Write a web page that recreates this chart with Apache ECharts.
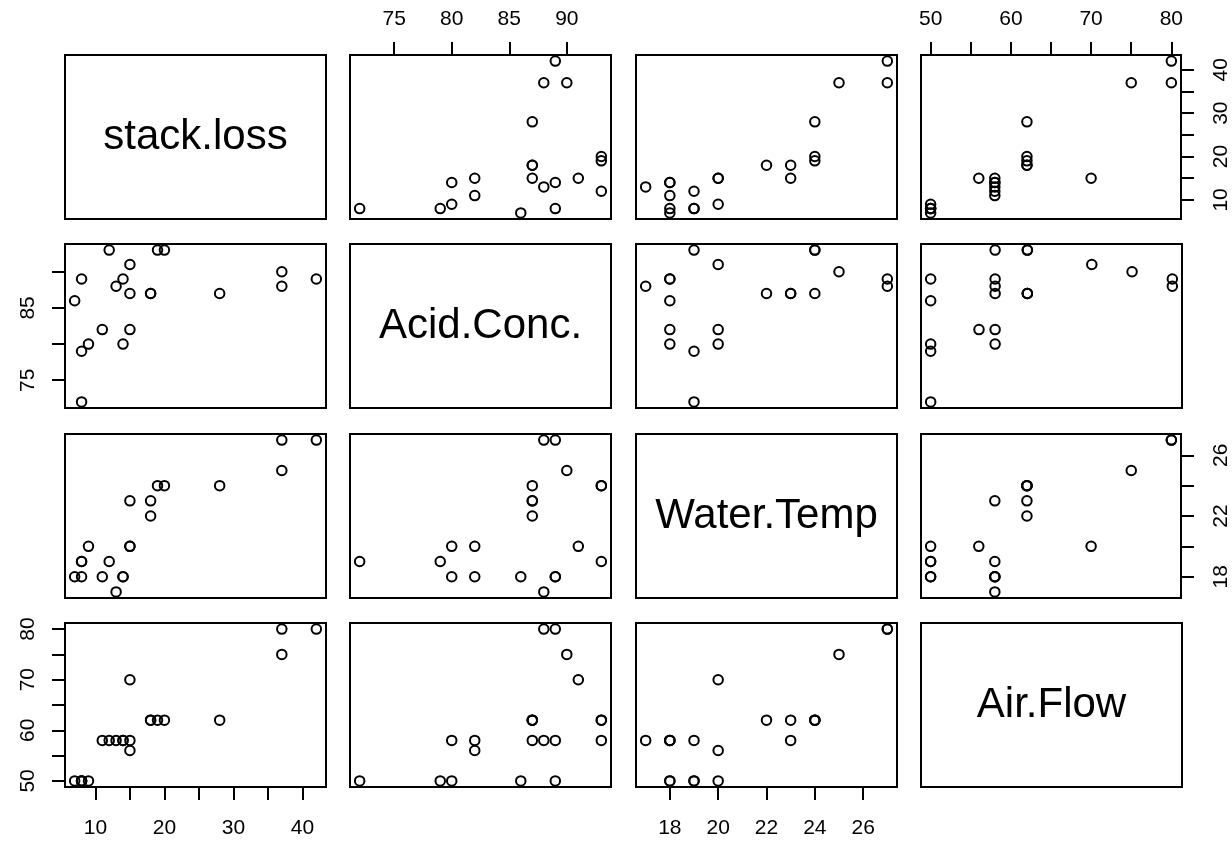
<!DOCTYPE html>
<html><head><meta charset="utf-8">
<script src="https://cdn.jsdelivr.net/npm/echarts@6/dist/echarts.min.js"></script>
<style>html,body{margin:0;padding:0;background:#fff}#c{width:1232px;height:841px}</style>
</head><body><div id="c"></div>
<script>
const varNames = ['stack.loss', 'Acid.Conc.', 'Water.Temp', 'Air.Flow'];
const stackLoss = [42,37,37,28,18,18,19,20,15,14,14,13,11,12,8,7,8,8,9,15,15];
const acidConc  = [89,88,90,87,87,87,93,93,87,80,89,88,82,93,89,86,72,79,80,82,91];
const waterTemp = [27,27,25,24,22,23,24,24,23,18,18,17,18,19,18,18,19,19,20,20,20];
const airFlow   = [80,80,75,62,62,62,62,62,58,58,58,58,58,58,50,50,50,50,50,56,70];
const tickValues = [[10,15,20,25,30,35,40],[75,80,85,90],[18,20,22,24,26],[50,55,60,65,70,75,80]];
const hLabels = [[10,20,30,40],[75,80,85,90],[18,20,22,24,26],[50,60,70,80]];
const vLabels = [[10,20,30,40],[75,85],[18,22,26],[50,60,70,80]];

const cols = [stackLoss, acidConc, waterTemp, airFlow];
const colLeft = [65, 350, 636, 921], cellW = 261;
const rowTop = [55, 244, 434, 623], cellH = 164;
const FONT = 'Liberation Sans, Arial, Helvetica, sans-serif';
const ranges = cols.map(a => { const lo = Math.min(...a), hi = Math.max(...a), d = (hi - lo) * 0.04; return [lo - d, hi + d]; });

const grid = [], xAxis = [], yAxis = [], series = [], graphic = [];
for (let r = 0; r < 4; r++) {
  for (let c = 0; c < 4; c++) {
    const gi = grid.length;
    grid.push({left: colLeft[c], top: rowTop[r], width: cellW, height: cellH, show: true,
      borderColor: '#000', borderWidth: 2, backgroundColor: 'transparent'});
    if (r === c) {
      xAxis.push({gridIndex: gi, type: 'value', show: false});
      yAxis.push({gridIndex: gi, type: 'value', show: false});
      graphic.push({type: 'text', x: colLeft[c] + cellW / 2, y: rowTop[r] + cellH / 2,
        style: {text: varNames[r], font: '42px ' + FONT, fill: '#000', textAlign: 'center', textVerticalAlign: 'middle'}});
      continue;
    }
    const showTop = (r === 0 && c % 2 === 1), showBottom = (r === 3 && c % 2 === 0);
    const showLeft = (c === 0 && r % 2 === 1), showRight = (c === 3 && r % 2 === 0);
    const xs = showTop || showBottom, ys = showLeft || showRight;
    xAxis.push({gridIndex: gi, type: 'value', min: ranges[c][0], max: ranges[c][1],
      position: showTop ? 'top' : 'bottom',
      axisLine: {show: false}, splitLine: {show: false},
      axisTick: {show: xs, inside: false, length: 13, customValues: tickValues[c], lineStyle: {color: '#000', width: 2}},
      axisLabel: {show: xs, customValues: hLabels[c], margin: showTop ? 25 : 31, color: '#000', fontSize: 21, fontFamily: FONT}});
    yAxis.push({gridIndex: gi, type: 'value', min: ranges[r][0], max: ranges[r][1],
      position: showRight ? 'right' : 'left',
      axisLine: {show: false}, splitLine: {show: false},
      axisTick: {show: ys, inside: false, length: 13, customValues: tickValues[r], lineStyle: {color: '#000', width: 2}},
      axisLabel: {show: ys, customValues: vLabels[r], rotate: 90, margin: showRight ? 30 : 26, color: '#000', fontSize: 21, fontFamily: FONT}});
    const pts = cols[c].map((v, i) => [v, cols[r][i]]);
    series.push({type: 'scatter', xAxisIndex: gi, yAxisIndex: gi, data: pts, symbol: 'circle', symbolSize: 9.5,
      itemStyle: {color: 'transparent', borderColor: '#000', borderWidth: 2, opacity: 1}, silent: true});
  }
}
const chart = echarts.init(document.getElementById('c'), null, {renderer: 'canvas'});
chart.setOption({animation: false, backgroundColor: '#fff', grid, xAxis, yAxis, series, graphic});
</script></body></html>
